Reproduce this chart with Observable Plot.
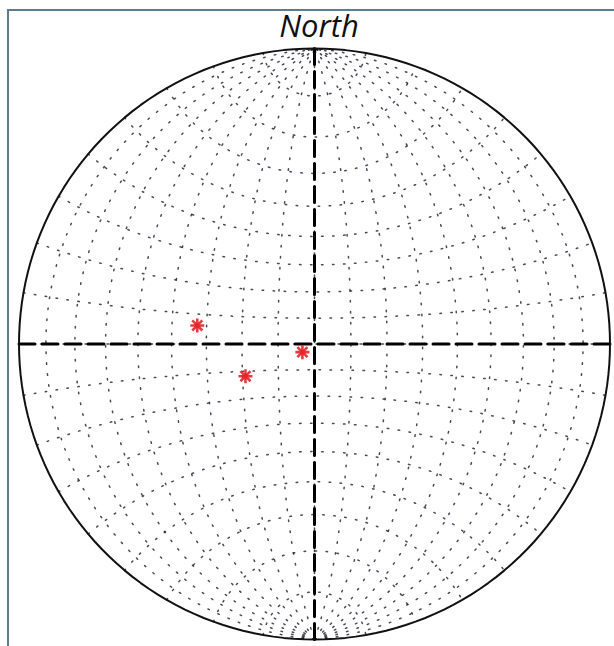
<!DOCTYPE html>
<html><head><meta charset="utf-8">
<script src="https://cdn.jsdelivr.net/npm/d3@7"></script>
<script src="https://cdn.jsdelivr.net/npm/@observablehq/plot@0.6"></script>
<style>
html,body{margin:0;padding:0;background:#fff;}
#wrap{position:relative;width:614px;height:646px;overflow:hidden;background:#fff;}
#frame{position:absolute;left:7px;top:9px;width:800px;height:800px;border-top:2px solid #5b7c93;border-left:2px solid #5b7c93;}
#title{position:absolute;left:0;width:638px;top:4px;text-align:center;font-family:"Open Sans",sans-serif;font-style:italic;font-size:31px;color:#111;line-height:42px;}
#chart{position:absolute;left:0;top:0;}
</style></head><body>
<div id="wrap"><div id="frame"></div><div id="chart"></div><div id="title"></div></div>
<script>
// Title
const title = "North";
// Grid spacing of the net, degrees
const meridianStep = 10;
const parallelStep = 10;
// Measured lineations (lower hemisphere): trend and plunge, degrees
const trends  = [279, 245, 236];
const plunges = [57, 69, 86];

document.getElementById("title").textContent = title;

const rad = Math.PI / 180;
// convert trend/plunge to lon/lat of a net centred on (0,0)
const points = trends.map((t, i) => {
  const c = (90 - plunges[i]) * rad, A = t * rad;
  const lat = Math.asin(Math.sin(c) * Math.cos(A)) / rad;
  const lon = Math.atan2(Math.sin(A) * Math.sin(c), Math.cos(c)) / rad;
  return {trend: t, plunge: plunges[i], lon, lat};
});

const R = 295.5, cx = 314, cy = 343.5;
const proj = d3.geoAzimuthalEqualArea()
  .rotate([0, 0])
  .scale(R / Math.SQRT2)
  .translate([cx, cy])
  .clipAngle(90)
  .precision(0.1);

// meridians of the equal-area net
const meridians = d3.geoGraticule()
  .extent([[-180, -90 + 1e-6], [180, 90 - 1e-6]])
  .step([meridianStep, 360])
  .lines()
  .filter(l => Math.abs(l.coordinates[0][0]) < 90);

// small circles of the net, drawn with the angle-true (stereographic) shape
const stereo = d3.geoStereographic().rotate([0, 0]).scale(R).translate([cx, cy]).clipAngle(90);
const parallels = {
  type: "MultiLineString",
  coordinates: d3.range(-90 + parallelStep, 90, parallelStep).map(phi =>
    d3.range(-90, 90.01, 1).map(lam => proj.invert(stereo([lam, phi])))
  )
};

const equator  = {type: "LineString", coordinates: [[-90, 0], [0, 0], [90, 0]]};
const meridian = {type: "LineString", coordinates: [[0, -90], [0, 0], [0, 90]]};

const star8 = {
  draw(context, size) {
    const r = Math.sqrt(size / Math.PI);
    const d = r * 0.72;
    context.moveTo(-r, 0); context.lineTo(r, 0);
    context.moveTo(0, -r); context.lineTo(0, r);
    context.moveTo(-d, -d); context.lineTo(d, d);
    context.moveTo(-d, d); context.lineTo(d, -d);
  }
};

const gridStyle = {stroke: "#1c1c2c", strokeWidth: 1.5, strokeDasharray: "1.5 9.5", strokeOpacity: 0.8};

const chart = Plot.plot({
  width: 614,
  height: 646,
  margin: 0,
  projection: proj,
  style: {background: "transparent"},
  marks: [
    Plot.geo(meridians, gridStyle),
    Plot.geo(parallels, gridStyle),
    Plot.geo(equator, {stroke: "#000", strokeWidth: 3, strokeDasharray: "16 7"}),
    Plot.geo(meridian, {stroke: "#000", strokeWidth: 3, strokeDasharray: "16 7"}),
    Plot.sphere({stroke: "#111", strokeWidth: 2}),
    Plot.dot(points, {x: "lon", y: "lat", r: 2.5, fill: "#e3262b", stroke: "none"}),
    Plot.dot(points, {x: "lon", y: "lat", symbol: star8, r: 7, fill: "none", stroke: "#e3262b", strokeWidth: 2.6, strokeOpacity: 0.9})
  ]
});
document.getElementById("chart").appendChild(chart);
</script>
</body></html>
